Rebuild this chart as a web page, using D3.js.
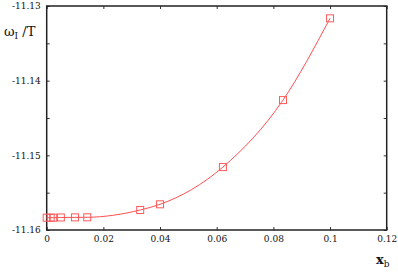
<!DOCTYPE html>
<html>
<head>
<meta charset="utf-8">
<script src="https://cdn.jsdelivr.net/npm/d3@7"></script>
<style>
  body { margin: 0; background: white; }
  text { font-family: "DejaVu Serif", "Liberation Serif", serif; fill: #111; }
</style>
</head>
<body>
<div id="vis"></div>
<script>
// data
var xb = [0, 0.0014, 0.0023, 0.005, 0.01, 0.0143, 0.033, 0.04, 0.0622, 0.0834, 0.1];
var omega = [-11.15835, -11.15835, -11.15835, -11.15832, -11.15831, -11.15830,
             -11.15732, -11.15656, -11.15157, -11.14260, -11.13165];
var xTicks = [0, 0.02, 0.04, 0.06, 0.08, 0.1, 0.12];
var yTicks = [-11.16, -11.15, -11.14, -11.13];
var yMinor = [-11.155, -11.145, -11.135];

var W = 398, H = 273;
var margin = { top: 6, left: 46.7, right: 11.3, bottom: 43 };
var width = W - margin.left - margin.right,
    height = H - margin.top - margin.bottom;

var svg = d3.select('#vis')
  .append('svg')
  .attr('width', W)
  .attr('height', H);

var g = svg.append('g')
  .attr('transform', 'translate(' + margin.left + ',' + margin.top + ')');

var x = d3.scaleLinear().domain([0, 0.12]).range([0, width]);
var y = d3.scaleLinear().domain([-11.16, -11.13]).range([height, 0]);

var fmtX = function(d){ return d === 0 ? '0' : String(+d.toFixed(2)); };
var fmtY = function(d){ return d.toFixed(2); };  // plain hyphen minus

// bottom axis
g.append('g')
  .attr('transform', 'translate(0,' + height + ')')
  .call(d3.axisBottom(x).tickValues(xTicks).tickSize(-3).tickPadding(6).tickFormat(fmtX))
  .call(function(a){ a.select('.domain').remove(); });

// top ticks (mirror)
g.append('g')
  .call(d3.axisTop(x).tickValues(xTicks).tickSize(-3).tickFormat(''))
  .call(function(a){ a.select('.domain').remove(); });

// left axis
g.append('g')
  .call(d3.axisLeft(y).tickValues(yTicks).tickSize(-3).tickPadding(6).tickFormat(fmtY))
  .call(function(a){ a.select('.domain').remove(); });
g.append('g')
  .call(d3.axisLeft(y).tickValues(yMinor).tickSize(-3).tickFormat(''))
  .call(function(a){ a.select('.domain').remove(); });

// right ticks (mirror)
g.append('g')
  .attr('transform', 'translate(' + width + ',0)')
  .call(d3.axisRight(y).tickValues(yTicks.concat(yMinor)).tickSize(-3).tickFormat(''))
  .call(function(a){ a.select('.domain').remove(); });

g.selectAll('.tick line').attr('stroke', '#333').attr('stroke-width', 1);
g.selectAll('.tick text').style('font-size', '9px').attr('fill', '#111');

// frame
g.append('rect')
  .attr('width', width)
  .attr('height', height)
  .attr('fill', 'none')
  .attr('stroke', '#222')
  .attr('stroke-width', 1.5);

// curve
var line = d3.line()
  .x(function(d, i){ return x(xb[i]); })
  .y(function(d){ return y(d); })
  .curve(d3.curveMonotoneX);

g.append('path')
  .datum(omega)
  .attr('d', line)
  .attr('fill', 'none')
  .attr('stroke', '#ff5050')
  .attr('stroke-width', 1);

// square markers
g.selectAll('.pt')
  .data(omega)
  .enter().append('rect')
  .attr('class', 'pt')
  .attr('x', function(d, i){ return x(xb[i]) - 3.5; })
  .attr('y', function(d){ return y(d) - 3.5; })
  .attr('width', 7)
  .attr('height', 7)
  .attr('fill', 'none')
  .attr('stroke', '#ff5a5a')
  .attr('stroke-width', 1);

// axis labels
var yl = svg.append('text')
  .attr('x', 4)
  .attr('y', 36)
  .style('font-size', '13px');
yl.append('tspan').text('ω');
yl.append('tspan').attr('dy', 3).style('font-size', '9px').text('I');
yl.append('tspan').attr('dy', -3).text(' /T');

var xl = svg.append('text')
  .attr('x', 376)
  .attr('y', 264)
  .style('font-size', '13px')
  .style('font-weight', 'bold');
xl.append('tspan').text('x');
xl.append('tspan').attr('dy', 3).style('font-size', '9px').style('font-weight', 'normal').text('b');
</script>
</body>
</html>
